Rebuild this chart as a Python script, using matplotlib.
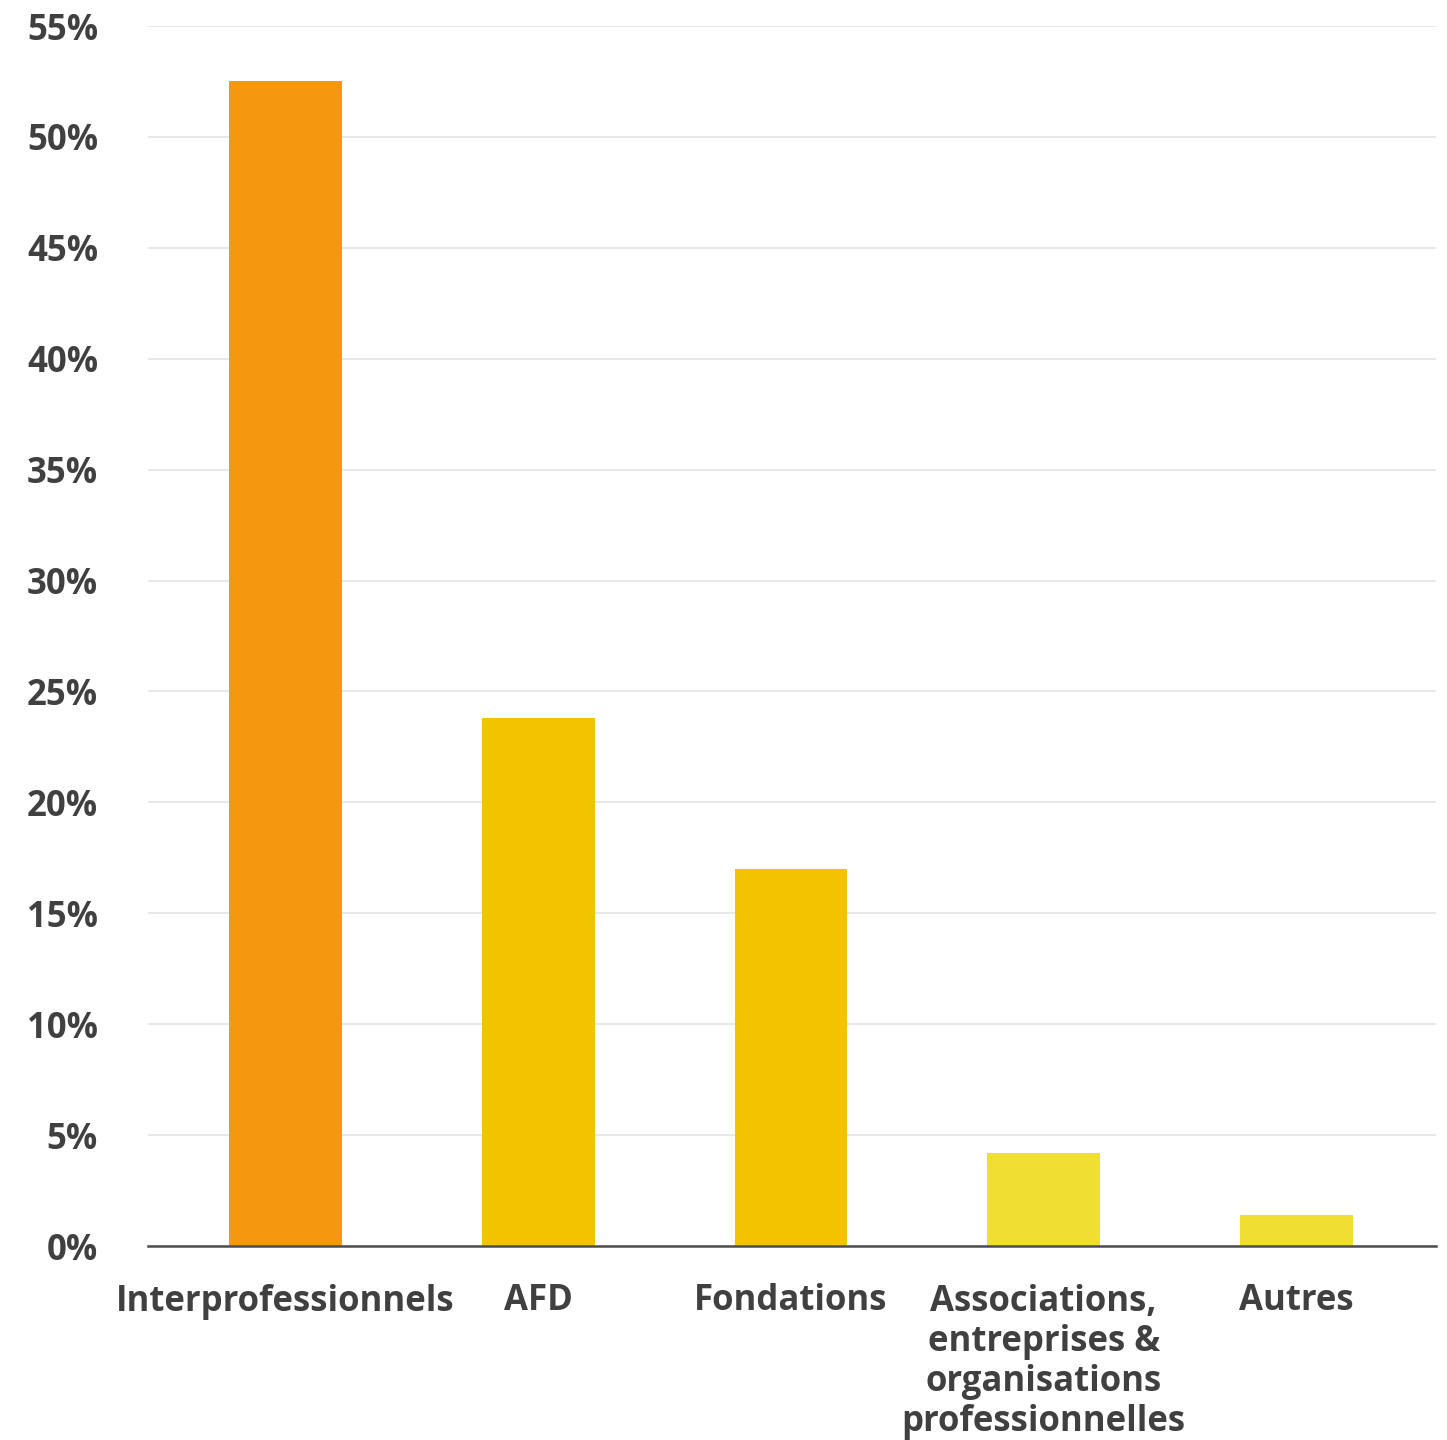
import numpy as np
import matplotlib.pyplot as plt
from matplotlib.ticker import MultipleLocator, FuncFormatter

# data
categories = ["Interprofessionnels", "AFD", "Fondations",
              "Associations,\nentreprises &\norganisations\nprofessionnelles", "Autres"]
values = [52.5, 23.8, 17.0, 4.2, 1.4]
colors = ["#F4980F", "#F4C300", "#F4C300", "#F1DE32", "#F1DE32"]

plt.rcParams['font.family'] = ['Open Sans', 'DejaVu Sans']
txt = "#404040"

fig = plt.figure(figsize=(14.47, 14.4), dpi=100)
ax = fig.add_axes([148/1447, (1440-1246)/1440, (1436-148)/1447, (1246-26)/1440])

x = np.arange(len(categories))
ax.bar(x, values, width=0.447, color=colors, zorder=3)

ax.set_ylim(0, 55)
ax.set_xlim(-0.544, 4.552)
ax.yaxis.set_major_locator(MultipleLocator(5))
ax.yaxis.set_major_formatter(FuncFormatter(lambda v, p: "%d%%" % v))
ax.grid(axis='y', color='#E8E8E8', linewidth=1.5, zorder=0)
ax.set_xticks(x)
ax.set_xticklabels(categories, linespacing=1.15)

for s in ['top', 'right', 'left']:
    ax.spines[s].set_visible(False)
ax.spines['bottom'].set_color('#4D4D4D')
ax.spines['bottom'].set_linewidth(1.8)
ax.spines['bottom'].set_zorder(4)

ax.tick_params(axis='y', length=0, pad=36, labelsize=25, labelcolor=txt)
ax.tick_params(axis='x', length=0, pad=27, labelsize=25, labelcolor=txt)
for lab in ax.get_xticklabels() + ax.get_yticklabels():
    lab.set_fontweight('bold')

fig.savefig("out.png", dpi=100)
